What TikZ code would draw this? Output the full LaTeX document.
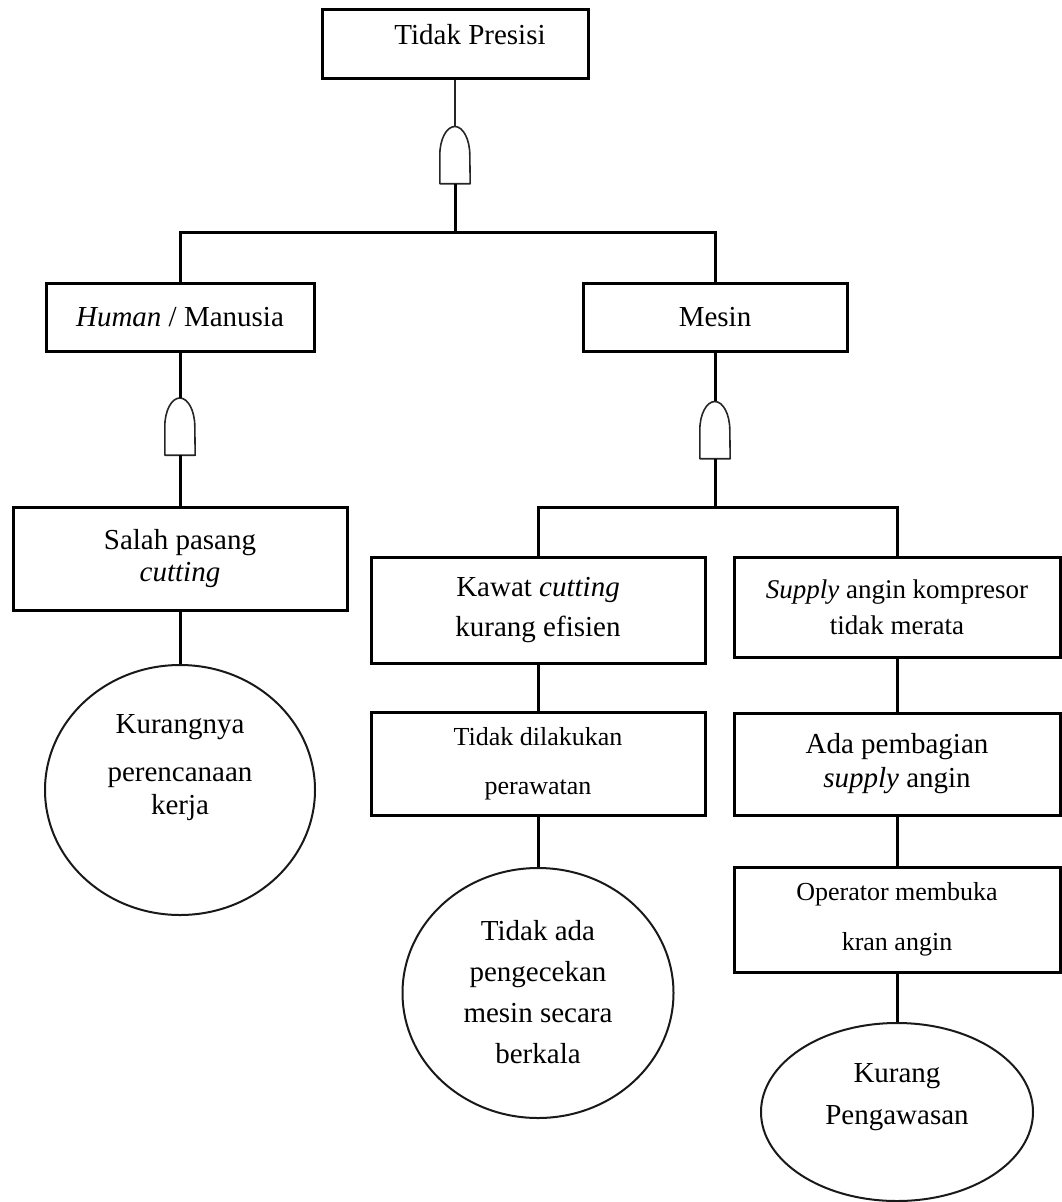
\documentclass[tikz,border=0pt]{standalone}
\usepackage{fontspec}
\setmainfont{Liberation Serif}
\usepackage{tikz}
\usetikzlibrary{arrows,shapes.geometric}

% outline of an AND gate drawn round a named gate node
\newcommand{\gateshape}[1]{\draw [gline] (#1.south west) -- (#1.west) arc [start angle=180, end angle=0, x radius=15pt, y radius=28.5pt] -- (#1.south east) -- cycle;}

\begin{document}
\begin{tikzpicture}[x=1pt,y=-1pt]
% Node styles ---
\tikzstyle{evt} = [rectangle, line width=3pt, draw=black, fill=white, inner sep=0pt, align=center, font=\fontsize{29}{36}\selectfont]
\tikzstyle{evs} = [evt, font=\fontsize{26}{32}\selectfont]
\tikzstyle{bas} = [ellipse, line width=2pt, draw=black!90, inner sep=0pt]
\tikzstyle{txt} = [align=center, inner sep=0pt, font=\fontsize{29}{36}\selectfont]
\tikzstyle{gat} = [rectangle, minimum width=30pt, minimum height=57pt, inner sep=0pt]
\tikzstyle{gline} = [line width=1.6pt, draw=black!85, line join=round]
\tikzstyle{con} = [line width=3pt, draw=black]
\tikzstyle{cthin} = [line width=1.5pt, draw=black!85]
% Begin Figure ---
\useasboundingbox (0,0) rectangle (1061,1202);
% Nodes
\node at (455,43.5) [evt, minimum width=266pt, minimum height=69pt] (tp) {};
\node at (470,35) [txt] (tpt) {Tidak Presisi};
\node at (455,155) [gat] (g0) {};
\node at (180,317) [evt, minimum width=268pt, minimum height=68pt] (hum) {\textit{Human} / Manusia};
\node at (715,317) [evt, minimum width=264pt, minimum height=68pt] (mes) {Mesin};
\node at (180,426.5) [gat] (g1) {};
\node at (715,430) [gat] (g2) {};
\node at (180,558.5) [evt, minimum width=334pt, minimum height=103pt] (sal) {Salah pasang\\[-4pt]\textit{cutting}};
\node at (538,610) [evt, minimum width=334pt, minimum height=106pt] (kaw) {Kawat \textit{cutting}\\[4pt]kurang efisien};
\node at (897,607) [evt, minimum width=326pt, minimum height=100pt, font=\fontsize{27}{34}\selectfont] (sup) {\textit{Supply} angin kompresor\\[2pt]tidak merata};
\node at (538,763.5) [evs, minimum width=334pt, minimum height=103pt] (tdl) {Tidak dilakukan\\[17pt]perawatan};
\node at (897,764) [evt, minimum width=326pt, minimum height=102pt] (ada) {Ada pembagian\\[-2pt]\textit{supply} angin};
\node at (897,919.5) [evs, minimum width=326pt, minimum height=105pt] (opr) {Operator membuka\\[18pt]kran angin};
\node at (180,790) [bas, minimum width=270pt, minimum height=250pt] (kur) {};
\node at (180,768) [txt] (kurt) {Kurangnya\\[12pt]perencanaan\\[-3pt]kerja};
\node at (538,993) [bas, minimum width=271pt, minimum height=250pt] (tda) {};
\node at (538,992) [txt] (tdat) {Tidak ada\\[5pt]pengecekan\\[5pt]mesin secara\\[5pt]berkala};
\node at (897,1112) [bas, minimum width=272pt, minimum height=178pt] (kpg) {};
\node at (897,1097) [txt] (kpgt) {Kurang\\[6pt]Pengawasan};
\coordinate (b0) at (455,232);
\coordinate (b1) at (715,507);
% Gates
\gateshape{g0}
\gateshape{g1}
\gateshape{g2}
% Paths
\path (tp) edge [cthin] (g0);
\path (g0) edge [con] (b0);
\draw [con] (b0) -| (hum);
\draw [con] (b0) -| (mes);
\path (hum) edge [con] (g1);
\path (g1) edge [con] (sal);
\path (sal) edge [con] (kur);
\path (mes) edge [con] (g2);
\path (g2) edge [con] (b1);
\draw [con] (b1) -| (kaw);
\draw [con] (b1) -| (sup);
\path (kaw) edge [con] (tdl);
\path (tdl) edge [con] (tda);
\path (sup) edge [con] (ada);
\path (ada) edge [con] (opr);
\path (opr) edge [con] (kpg);
\end{tikzpicture}
\end{document}
